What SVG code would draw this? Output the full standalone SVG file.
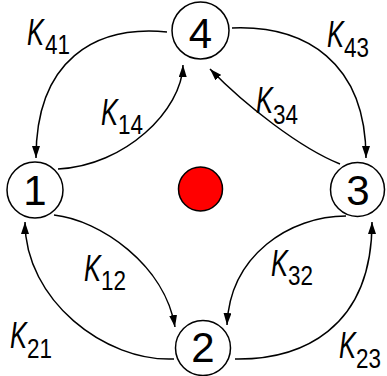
<svg xmlns="http://www.w3.org/2000/svg" width="387" height="376" viewBox="0 0 387 376">
<style>
.node circle{fill:#fff;stroke:#000;stroke-width:1.5}
.node text{font-family:"Liberation Sans",Arial,sans-serif;font-size:42px;text-anchor:middle;fill:#000}
.edge{fill:none;stroke:#000;stroke-width:1.5;marker-end:url(#ah)}
.k{font-family:"Liberation Sans",Arial,sans-serif;font-size:37px;font-style:italic;fill:#000}
.s{font-family:"Liberation Sans",Arial,sans-serif;font-size:27px;fill:#000}
</style>
<defs>
<marker id="ah" markerUnits="userSpaceOnUse" markerWidth="12" markerHeight="8" refX="12" refY="4" orient="auto" viewBox="0 0 12 8">
<path d="M0,0 L12,4 L0,8 z" fill="#000"/>
</marker>
</defs>
<rect width="387" height="376" fill="#fff"/>
<g id="connectors">
<path class="edge" d="M167,32 C95,25 36,60 36,158"/>
<path class="edge" d="M232,28 C305,25 366,62 366,158"/>
<path class="edge" d="M174,359 C105,362 25,300 25,222"/>
<path class="edge" d="M235,359 C300,360 372,330 372,222"/>
<path class="edge" d="M58,169 C125,166 182,110 183,65"/>
<path class="edge" d="M340,164 C300,148 245,105 210,69"/>
<path class="edge" d="M54,215 C100,220 165,265 175,327"/>
<path class="edge" d="M346,216 C290,216 230,255 227,325"/>
</g>
<g id="labels">
<g id="k41"><text class="k" x="27" y="45" textLength="17" lengthAdjust="spacingAndGlyphs">K</text><text class="s" x="45" y="54" textLength="25" lengthAdjust="spacingAndGlyphs">41</text></g>
<g id="k14"><text class="k" x="101" y="125" textLength="17" lengthAdjust="spacingAndGlyphs">K</text><text class="s" x="118" y="134" textLength="25" lengthAdjust="spacingAndGlyphs">14</text></g>
<g id="k43"><text class="k" x="327" y="47" textLength="17" lengthAdjust="spacingAndGlyphs">K</text><text class="s" x="344" y="57" textLength="25" lengthAdjust="spacingAndGlyphs">43</text></g>
<g id="k34"><text class="k" x="256" y="113" textLength="17" lengthAdjust="spacingAndGlyphs">K</text><text class="s" x="273" y="124" textLength="25" lengthAdjust="spacingAndGlyphs">34</text></g>
<g id="k12"><text class="k" x="84" y="281" textLength="17" lengthAdjust="spacingAndGlyphs">K</text><text class="s" x="101" y="290" textLength="25" lengthAdjust="spacingAndGlyphs">12</text></g>
<g id="k21"><text class="k" x="10" y="348" textLength="17" lengthAdjust="spacingAndGlyphs">K</text><text class="s" x="27" y="358" textLength="25" lengthAdjust="spacingAndGlyphs">21</text></g>
<g id="k32"><text class="k" x="271" y="276" textLength="17" lengthAdjust="spacingAndGlyphs">K</text><text class="s" x="288" y="285" textLength="25" lengthAdjust="spacingAndGlyphs">32</text></g>
<g id="k23"><text class="k" x="339" y="358" textLength="17" lengthAdjust="spacingAndGlyphs">K</text><text class="s" x="356" y="368" textLength="25" lengthAdjust="spacingAndGlyphs">23</text></g>
</g>
<g id="center">
<circle cx="200.5" cy="189" r="22" fill="#ff0000" stroke="#000" stroke-width="1.5"/>
</g>
<g id="node4" class="node"><circle cx="200.5" cy="30.5" r="28.5"/><text x="200.5" y="48">4</text></g>
<g id="node1" class="node"><circle cx="35" cy="190" r="28"/><text x="35" y="205">1</text></g>
<g id="node3" class="node"><circle cx="357.5" cy="189.5" r="27"/><text x="358" y="205">3</text></g>
<g id="node2" class="node"><circle cx="203" cy="348" r="27.5"/><text x="203" y="362">2</text></g>
</svg>
